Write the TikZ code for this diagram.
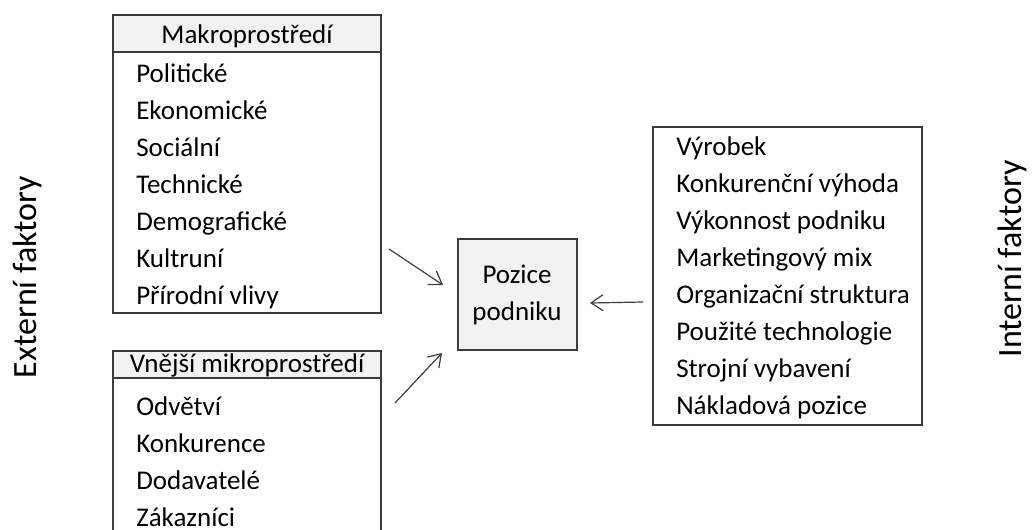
\documentclass[tikz,border=0pt]{standalone}
\usepackage{fontspec}
\setmainfont{Carlito}
\usetikzlibrary{arrows.meta, fit, positioning}

\definecolor{linegray}{HTML}{3C3C3C}
\definecolor{headgray}{HTML}{F2F2F2}

\tikzset{
  box/.style={draw=linegray, line width=1pt, inner sep=0pt, fill=white},
  head/.style={box, fill=headgray},
  item/.style={anchor=base west, inner sep=0pt},
  side/.style={rotate=90, inner sep=0pt, font=\fontsize{25.5}{30}\selectfont},
  arr/.style={draw=linegray, line width=0.9pt, -{Straight Barb[length=9pt, width=12pt]}}
}

\begin{document}
\begin{tikzpicture}[x=0.75pt, y=-0.75pt, font=\fontsize{20.25}{27.75}\selectfont, text=black]
  \useasboundingbox (0,0) rectangle (1032,529);

  % externi
  \node[box, fit={(113,15) (381,313)}] (makro) {};
  \node[head, fit={(113,15) (381,52)}] (makrohead) {};
  \node[anchor=base] (makrotitle) at (247,43) {Makroprostředí};
  \foreach \t [count=\i] in {Politické, Ekonomické, Sociální, Technické, Demografické, Kultruní, Přírodní vlivy}
    \node[item] (mk\i) at (136, {82+37*(\i-1)}) {\t};

  \node[box, fit={(113,351) (381,560)}] (mikro) {};
  \node[head, fit={(113,351) (381,378)}] (mikrohead) {};
  \node[anchor=base] (mikrotitle) at (247,372) {Vnější mikroprostředí};
  \foreach \t [count=\i] in {Odvětví, Konkurence, Dodavatelé, Zákazníci}
    \node[item] (mi\i) at (136, {415+37*(\i-1)}) {\t};

  % interni
  \node[box, fit={(653,127) (922,425)}] (interni) {};
  \foreach \t [count=\i] in {Výrobek, Konkurenční výhoda, Výkonnost podniku, Marketingový mix, Organizační struktura, Použité technologie, Strojní vybavení, Nákladová pozice}
    \node[item] (in\i) at (676, {155+37.1*(\i-1)}) {\t};

  \node[head, fit={(458,239) (577,350)}] (pozice) {};
  \node[anchor=base] (pozice1) at (517,283) {Pozice};
  \node[anchor=base] (pozice2) at (517,320) {podniku};

  \node[side] (ext) at (27,277) {Externí faktory};
  \node[side] (int) at (1012,259) {Interní faktory};

  \coordinate (a1) at (389,249);
  \coordinate (b1) at (443,285);
  \coordinate (a2) at (395,403);
  \coordinate (b2) at (442,353);
  \coordinate (a3) at (643,302);
  \coordinate (b3) at (590,303);
  \draw[arr] (a1) -- (b1);
  \draw[arr] (a2) -- (b2);
  \draw[arr] (a3) -- (b3);
\end{tikzpicture}
\end{document}
